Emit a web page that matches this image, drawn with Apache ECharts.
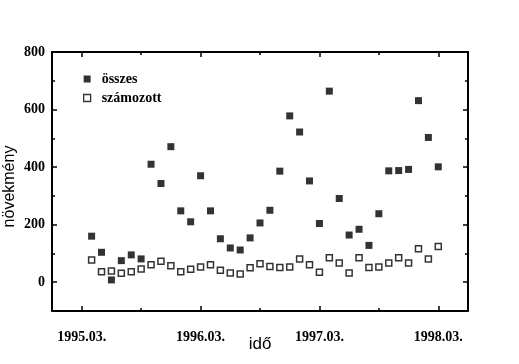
<!DOCTYPE html>
<html>
<head>
<meta charset="utf-8">
<script src="https://cdn.jsdelivr.net/npm/echarts@6/dist/echarts.min.js"></script>
<style>html,body{margin:0;padding:0;background:#fff}#c{width:519px;height:364px}</style>
</head>
<body>
<div id="c"></div>
<script>
// months from 1995.04 to 1998.03
var months = ['1995.04','1995.05','1995.06','1995.07','1995.08','1995.09','1995.10','1995.11','1995.12',
  '1996.01','1996.02','1996.03','1996.04','1996.05','1996.06','1996.07','1996.08','1996.09','1996.10','1996.11','1996.12',
  '1997.01','1997.02','1997.03','1997.04','1997.05','1997.06','1997.07','1997.08','1997.09','1997.10','1997.11','1997.12',
  '1998.01','1998.02','1998.03'];
var osszes = [160,104,8,75,95,81,410,343,471,
  248,210,370,248,151,119,112,154,206,250,386,578,
  522,352,204,664,291,164,184,128,238,387,388,392,
  631,503,401];
var szamozott = [77,36,39,31,36,46,61,73,57,
  36,45,53,61,42,32,29,50,64,55,51,53,
  81,61,35,85,67,32,85,51,53,67,85,67,
  116,81,124];
var xTickLabels = ['1995.03.','1996.03.','1997.03.','1998.03.'];
var yTickLabels = [0,200,400,600,800];

// month index: 0 = 1995.03
function monthIndex(s){ var p=s.split('.'); return (parseInt(p[0])-1995)*12 + parseInt(p[1]) - 3; }
var d1 = months.map(function(m,i){return [monthIndex(m), osszes[i]];});
var d2 = months.map(function(m,i){return [monthIndex(m), szamozott[i]];});

var xMajor = [0,12,24,36], xMinor = [6,18,30];
var yMajor = yTickLabels, yMinor = [100,300,500,700];
var serif = 'Liberation Serif';
var line = {show:true, onZero:false, lineStyle:{color:'#000', width:2}};
var noLine = {show:false, onZero:false};

function xAx(pos, ticks, len, showLine, labels){
  return {type:'value', position:pos, min:-3, max:39, gridIndex:0,
    axisLine: showLine ? line : noLine,
    axisTick:{show:true, inside:true, length:len, customValues:ticks, lineStyle:{color:'#000', width:1.5}},
    axisLabel: labels ? {show:true, customValues:xMajor, margin:19, color:'#000', fontFamily:serif, fontWeight:'bold', fontSize:14,
      formatter:function(v){return xTickLabels[Math.round(v/12)];}} : {show:false},
    splitLine:{show:false}};
}
function yAx(pos, ticks, len, showLine, labels){
  return {type:'value', position:pos, min:-100, max:800, gridIndex:0,
    axisLine: showLine ? line : noLine,
    axisTick:{show:true, inside:true, length:len, customValues:ticks, lineStyle:{color:'#000', width:1.5}},
    axisLabel: labels ? {show:true, customValues:yMajor, margin:7, color:'#000', fontFamily:serif, fontWeight:'bold', fontSize:14} : {show:false},
    splitLine:{show:false}};
}
var xa0 = xAx('bottom', xMajor, 5, true, true);
xa0.name = 'idő'; xa0.nameLocation = 'middle'; xa0.nameGap = 25; xa0.nameMoveOverlap = false;
xa0.nameTextStyle = {fontFamily:'Liberation Sans', fontSize:17, color:'#000'};
var ya0 = yAx('left', yMajor, 5, true, true);
ya0.name = 'növekmény'; ya0.nameLocation = 'middle'; ya0.nameGap = 34; ya0.nameMoveOverlap = false;
ya0.nameTextStyle = {fontFamily:'Liberation Sans', fontSize:16, color:'#000', padding:[0,10,0,0]};

var chart = echarts.init(document.getElementById('c'), null, {renderer:'canvas'});
chart.setOption({
  animation:false,
  backgroundColor:'#fff',
  grid:{left:52, right:51, top:52, bottom:53, containLabel:false, outerBoundsMode:'none'},
  legend:{orient:'vertical', left:78, top:67, itemWidth:7, itemHeight:7, itemGap:5,
    textStyle:{fontFamily:serif, fontWeight:'bold', fontSize:14, color:'#000', padding:[0,0,0,6]},
    data:[{name:'összes', icon:'rect'},{name:'számozott', icon:'rect', itemStyle:{borderWidth:1.3}}]},
  xAxis:[xa0, xAx('bottom', xMinor, 3, false, false), xAx('top', xMajor, 5, true, false), xAx('top', xMinor, 3, false, false)],
  yAxis:[ya0, yAx('left', yMinor, 3, false, false), yAx('right', yMajor, 5, true, false), yAx('right', yMinor, 3, false, false)],
  series:[
    {name:'összes', type:'scatter', xAxisIndex:0, yAxisIndex:0, symbol:'rect', symbolSize:7,
      itemStyle:{color:'#000'}, data:d1},
    {name:'számozott', type:'scatter', xAxisIndex:0, yAxisIndex:0, symbol:'rect', symbolSize:6,
      itemStyle:{color:'#fff', borderColor:'#000', borderWidth:1.5}, data:d2}
  ]
});
</script>
</body>
</html>
